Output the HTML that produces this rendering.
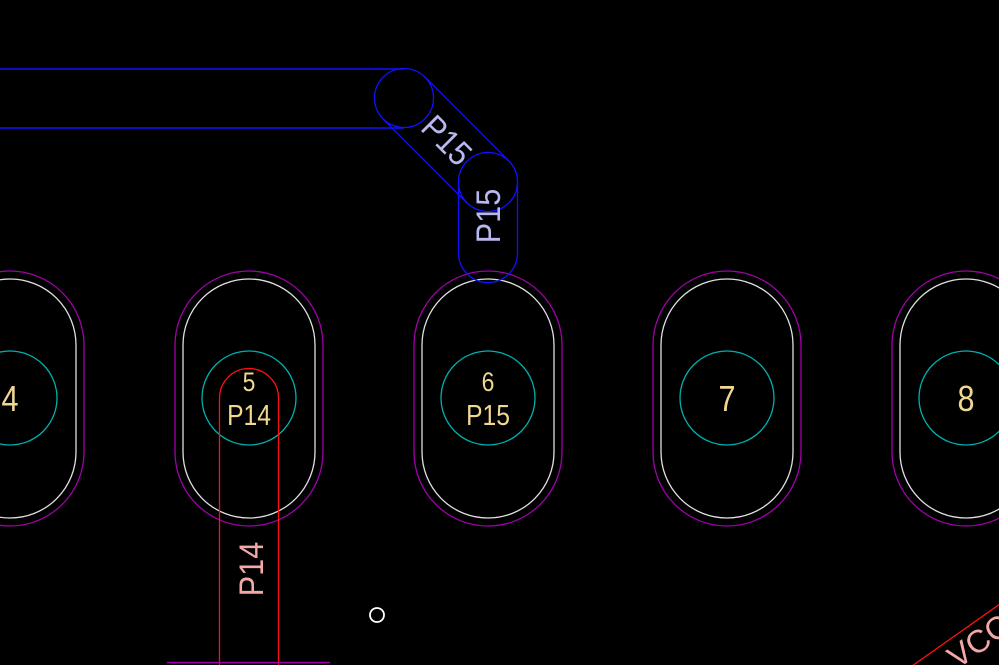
<!DOCTYPE html>
<html><head><meta charset="utf-8"><style>
html,body{margin:0;padding:0;background:#000;width:999px;height:665px;overflow:hidden}
svg{display:block}
text{font-family:"Liberation Sans",sans-serif}
</style></head><body>
<svg width="999" height="665" viewBox="0 0 999 665" xmlns="http://www.w3.org/2000/svg">
<g fill="none" stroke-width="1.3">
  <g id="pads">
    <rect x="-64" y="271" width="148" height="255" rx="74" ry="74" stroke="#a000a8"/>
    <rect x="-56" y="279" width="132" height="239" rx="66" ry="66" stroke="#e0e0e0"/>
    <circle cx="10" cy="398" r="47" stroke="#00b0b0"/>
    <rect x="175" y="271" width="148" height="255" rx="74" ry="74" stroke="#a000a8"/>
    <rect x="183" y="279" width="132" height="239" rx="66" ry="66" stroke="#e0e0e0"/>
    <circle cx="249" cy="398" r="47" stroke="#00b0b0"/>
    <rect x="414" y="271" width="148" height="255" rx="74" ry="74" stroke="#a000a8"/>
    <rect x="422" y="279" width="132" height="239" rx="66" ry="66" stroke="#e0e0e0"/>
    <circle cx="488" cy="398" r="47" stroke="#00b0b0"/>
    <rect x="653" y="271" width="148" height="255" rx="74" ry="74" stroke="#a000a8"/>
    <rect x="661" y="279" width="132" height="239" rx="66" ry="66" stroke="#e0e0e0"/>
    <circle cx="727" cy="398" r="47" stroke="#00b0b0"/>
    <rect x="892" y="271" width="148" height="255" rx="74" ry="74" stroke="#a000a8"/>
    <rect x="900" y="279" width="132" height="239" rx="66" ry="66" stroke="#e0e0e0"/>
    <circle cx="966" cy="398" r="47" stroke="#00b0b0"/>
  </g>
  <g stroke="#1010ff">
    <line x1="0" y1="69" x2="404" y2="69" stroke-width="1.6"/>
    <line x1="0" y1="128" x2="404" y2="128" stroke-width="1.6"/>
    <circle cx="404" cy="98" r="29.5"/>
    <circle cx="488" cy="182" r="29.5"/>
    <line x1="425" y1="77" x2="509" y2="161"/>
    <line x1="383" y1="119" x2="467" y2="203"/>
    <path d="M458.5 182 V253 A29.5 29.5 0 0 0 517.5 253 V182"/>
  </g>
  <path d="M219.5 665 V398 A29.5 29.5 0 0 1 278.5 398 V665" stroke="#ff1010"/>
  <line x1="167" y1="662.5" x2="330" y2="662.5" stroke="#a000a8" stroke-width="1.5"/>
  <line x1="912" y1="666" x2="1000" y2="604" stroke="#ff1010"/>
  <circle cx="377" cy="615" r="7" stroke="#fff" stroke-width="1.8"/>
</g>
<g fill="#f0d890" text-anchor="middle">
  <text transform="translate(10,411) scale(0.85,1)" font-size="36">4</text>
  <text transform="translate(249,391) scale(0.85,1)" font-size="27">5</text>
  <text transform="translate(249,425) scale(0.85,1)" font-size="29">P14</text>
  <text transform="translate(488,391) scale(0.85,1)" font-size="27">6</text>
  <text transform="translate(488,425) scale(0.85,1)" font-size="29">P15</text>
  <text transform="translate(727,411) scale(0.85,1)" font-size="36">7</text>
  <text transform="translate(966,411) scale(0.85,1)" font-size="36">8</text>
</g>
<g fill="#b8b8f0" text-anchor="middle" font-size="34">
  <text transform="translate(447,140) rotate(45) scale(0.9,1)" y="12">P15</text>
  <text transform="translate(488,216) rotate(-90) scale(0.9,1)" y="12">P15</text>
</g>
<text transform="translate(251,569) rotate(-90) scale(0.9,1)" y="12" fill="#f4a8a8" text-anchor="middle" font-size="34">P14</text>
<text transform="translate(985,650) rotate(-35)" fill="#f4a8a8" text-anchor="middle" font-size="32">VCC</text>
</svg>
</body></html>
